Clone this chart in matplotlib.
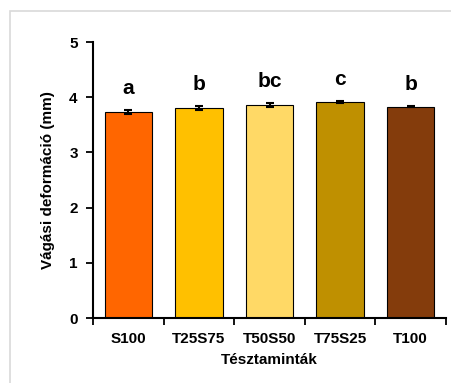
import matplotlib
matplotlib.use("Agg")
import matplotlib.pyplot as plt
from matplotlib.patches import Rectangle
import numpy as np

samples = ["S100", "T25S75", "T50S50", "T75S25", "T100"]
values = [3.73, 3.80, 3.86, 3.91, 3.83]
errors = [0.03, 0.04, 0.03, 0.02, 0.01]
letters = ["a", "b", "bc", "c", "b"]
colors = ["#FF6600", "#FFC000", "#FFD966", "#BF9000", "#843C0C"]

plt.rcParams["font.family"] = ["Liberation Sans", "DejaVu Sans"]
plt.rcParams["font.weight"] = "bold"

fig = plt.figure(figsize=(4.52, 3.83), dpi=100)
fig.patches.append(Rectangle((10 / 452, -0.1), 1.2, (383 - 11) / 383 + 0.1,
                             transform=fig.transFigure, fill=False,
                             edgecolor="#d9d9d9", linewidth=1.2))
ax = fig.add_axes([93 / 452, 65 / 383, 353 / 452, 276 / 383])

x = np.arange(len(samples))
ax.bar(x, values, width=0.67, color=colors, edgecolor="black", linewidth=0.8, zorder=2)
ax.errorbar(x, values, yerr=errors, fmt="none", ecolor="black", elinewidth=1.5,
            capsize=3, capthick=1.5, zorder=3)
for xi, v, e, lab in zip(x, values, errors, letters):
    ax.annotate(lab, (xi, v + e), xytext=(0, 9), textcoords="offset points",
                ha="center", va="bottom", fontsize=15, fontweight="bold")

ax.set_xlim(-0.5, len(samples) - 0.5)
ax.set_ylim(0, 5)
ax.set_yticks([0, 1, 2, 3, 4, 5])
ax.set_xticks(x)
ax.set_xticklabels(samples)
ax.set_xticks(np.arange(-0.5, len(samples), 1.0), minor=True)
ax.tick_params(axis="x", which="major", length=0, pad=10, labelsize=11)
ax.tick_params(axis="x", which="minor", length=5, width=1.3, direction="out")
ax.tick_params(axis="y", length=5, width=1.3, direction="out", labelsize=11, pad=6)
for lab in ax.get_xticklabels() + ax.get_yticklabels():
    lab.set_fontweight("bold")

ax.spines["top"].set_visible(False)
ax.spines["right"].set_visible(False)
ax.spines["left"].set_linewidth(1.5)
ax.spines["bottom"].set_linewidth(1.5)

ax.set_xlabel("Tésztaminták", fontsize=11, fontweight="bold", labelpad=5)
ax.set_ylabel("Vágási deformáció (mm)", fontsize=11, fontweight="bold", labelpad=10)

fig.savefig("out.png", dpi=100)
